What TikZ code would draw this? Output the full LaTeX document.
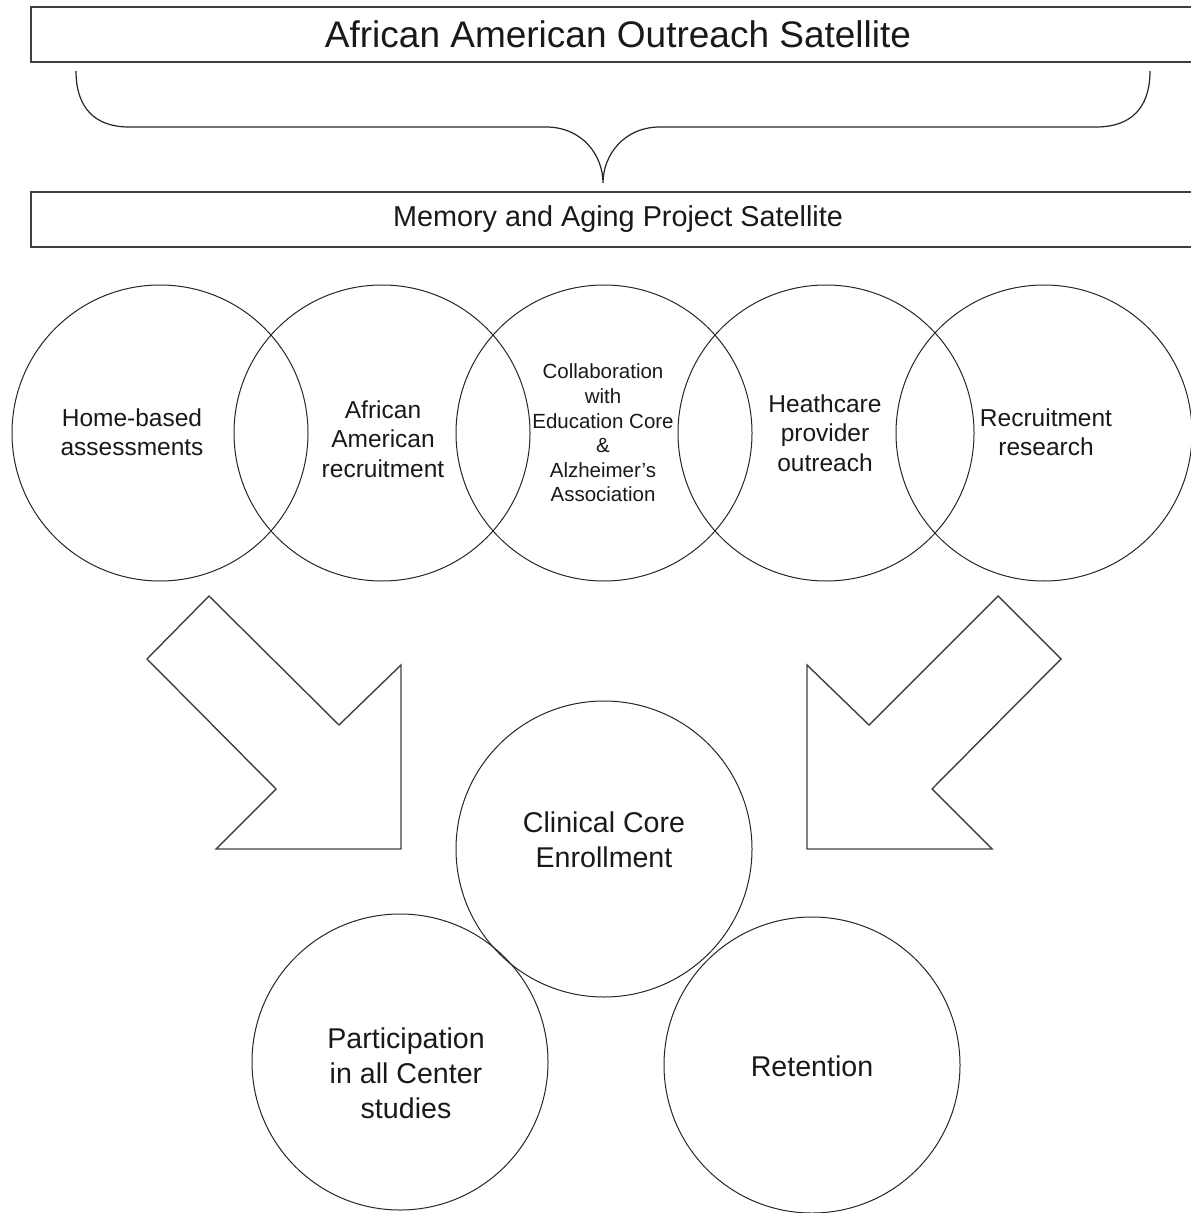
\documentclass[tikz,border=0pt]{standalone}
\usepackage{fontspec}
\setmainfont{Liberation Sans}
\begin{document}
\begin{tikzpicture}[x=0.5pt,y=-0.5pt,
  box/.style={draw=black!75, line width=0.8pt},
  ring/.style={draw=black!85, line width=0.5pt, circle, minimum size=148pt, inner sep=0pt},
  lbl/.style={align=center, text=black!90, inner sep=0pt, font=\fontsize{12.25}{14.75}\selectfont},
  bigl/.style={align=center, text=black!90, inner sep=0pt, font=\fontsize{14.3}{17.4}\selectfont},
  smalll/.style={align=center, text=black!90, inner sep=0pt, font=\fontsize{10.25}{12.3}\selectfont},
  arrowshape/.style={draw=black!75, line width=0.7pt, line join=miter},
  bracestyle/.style={draw=black!85, line width=0.6pt}]
\useasboundingbox (0,0) rectangle (1190,1213);

% top boxes
\coordinate (b1tl) at (31,7);
\coordinate (b1bl) at (31,62);
\coordinate (b2tl) at (31,192);
\coordinate (b2bl) at (31,247);
\draw[box] (1200,7) -- (b1tl) -- (b1bl) -- (1200,62);
\draw[box] (1200,192) -- (b2tl) -- (b2bl) -- (1200,247);
\node[text=black!90, inner sep=0pt, font=\fontsize{18.5}{22}\selectfont] (title) at (618,34) {African American Outreach Satellite};
\node[text=black!90, inner sep=0pt, font=\fontsize{14.4}{17}\selectfont] (memory) at (618,219) {Memory and Aging Project Satellite};

% brace
\coordinate (brl) at (76,71);
\coordinate (brr) at (1150,71);
\coordinate (brtip) at (603,183);
\draw[bracestyle] (brl) .. controls (76,108) and (95,127) .. (129,127) -- (546,127)
  .. controls (582,127) and (603,155) .. (brtip)
  .. controls (603,155) and (624,127) .. (660,127) -- (1096,127)
  .. controls (1131,127) and (1150,108) .. (brr);

% venn row
\node[ring] (c1) at (160,433) {};
\node[ring] (c2) at (382,433) {};
\node[ring] (c3) at (604,433) {};
\node[ring] (c4) at (826,433) {};
\node[ring] (c5) at (1044,433) {};
\node[lbl] (t1) at (132,432) {Home-based\\assessments};
\node[lbl] (t2) at (383,439) {African\\American\\recruitment};
\node[smalll] (t3) at (603,433) {Collaboration\\with\\Education Core\\\&\\Alzheimer’s\\Association};
\node[lbl] (t4) at (825,433) {Heathcare\\provider\\outreach};
\node[lbl] (t5) at (1046,432) {Recruitment\\research};

% arrows
\draw[arrowshape] (209,596) -- (147,659) -- (276,789) -- (216,849) -- (401,849) -- (401,665) -- (339,725) -- cycle;
\draw[arrowshape] (998,596) -- (1061,659) -- (932,789) -- (992,849) -- (807,849) -- (807,665) -- (869,725) -- cycle;

% bottom circles
\node[ring] (cc) at (604,849) {};
\node[ring] (cp) at (400,1062) {};
\node[ring] (cr) at (812,1065) {};
\node[bigl] (tc) at (604,840) {Clinical Core\\Enrollment};
\node[bigl] (tp) at (406,1073) {Participation\\in all Center\\studies};
\node[bigl] (tr) at (812,1066) {Retention};
\end{tikzpicture}
\end{document}
